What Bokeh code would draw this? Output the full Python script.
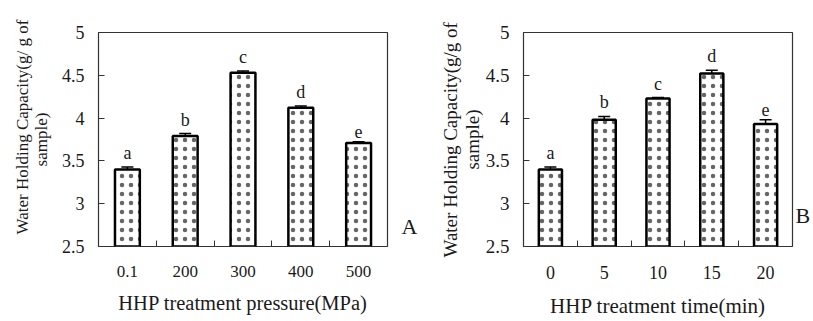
from bokeh.plotting import figure
from bokeh.layouts import row
from bokeh.models import (ColumnDataSource, Range1d, FixedTicker, Whisker, TeeHead,
                          LinearAxis, Title)
from bokeh.core.properties import value
from bokeh.embed import file_html
from bokeh.resources import INLINE

# ---------------- data ----------------
pressure_cats = ["0.1", "200", "300", "400", "500"]
pressure_whc = [3.40, 3.79, 4.53, 4.12, 3.71]
pressure_err = [0.03, 0.03, 0.02, 0.02, 0.015]
pressure_letters = ["a", "b", "c", "d", "e"]

time_cats = ["0", "5", "10", "15", "20"]
time_whc = [3.40, 3.98, 4.23, 4.52, 3.93]
time_err = [0.03, 0.04, 0.01, 0.04, 0.05]
time_letters = ["a", "b", "c", "d", "e"]

y_ticks = [2.5, 3.0, 3.5, 4.0, 4.5, 5.0]
y_tick_labels = ["2.5", "3", "3.5", "4", "4.5", "5"]

FONT = "Liberation Serif"
INK = "#1a1a1a"
H = 321


def panel(cats, vals, errs, letters, xtitle, ytitle1, ytitle2, panel_tag,
          width, bl, br, bt, bb, tick_fs, xt_fs, yt_fs, yl_standoff,
          t1_offset, t1_standoff, tag_px, tag_standoff):
    n = len(cats)
    xs = [i + 0.5 for i in range(n)]
    src = ColumnDataSource(dict(
        x=xs, top=vals,
        upper=[v + e for v, e in zip(vals, errs)],
        lower=[v - e for v, e in zip(vals, errs)],
        letter=letters,
    ))
    y0, y1 = y_ticks[0], y_ticks[-1]
    p = figure(width=width, height=H, output_backend="svg", toolbar_location=None,
               x_range=Range1d(0, n), y_range=Range1d(y0, y1),
               min_border_left=bl, min_border_right=br, min_border_top=bt,
               min_border_bottom=bb)
    p.background_fill_color = "white"
    p.border_fill_color = "white"
    p.outline_line_color = "#333333"
    p.outline_line_width = 1.2
    p.xgrid.grid_line_color = None
    p.ygrid.grid_line_color = None

    p.vbar(x="x", top="top", bottom=y0, width=0.43, source=src,
           fill_color="white", line_color="black", line_width=2.5,
           hatch_pattern="dot", hatch_color="#666666", hatch_scale=9, hatch_weight=1.0)

    wh = Whisker(base="x", upper="upper", lower="lower", source=src,
                 line_color="black", line_width=1.5,
                 upper_head=TeeHead(size=12, line_width=1.5, line_color="black"),
                 lower_head=TeeHead(size=12, line_width=1.5, line_color="black"))
    p.add_layout(wh)

    p.text(x="x", y="upper", text="letter", source=src, text_align="center",
           text_baseline="bottom", y_offset=-4, text_font=value(FONT),
           text_font_size="18px", text_color=INK)

    # x axis: labels under the bars, inward ticks between the bars
    xa = p.xaxis[0]
    xa.ticker = FixedTicker(ticks=xs, minor_ticks=[i for i in range(1, n)])
    xa.major_label_overrides = {x: c for x, c in zip(xs, cats)}
    xa.major_tick_in = 0
    xa.major_tick_out = 0
    xa.minor_tick_in = 6
    xa.minor_tick_out = 0
    xa.minor_tick_line_color = "#333333"
    xa.axis_line_color = None
    xa.major_label_standoff = 19
    xa.major_label_text_font = FONT
    xa.major_label_text_font_size = f"{tick_fs}px"
    xa.major_label_text_color = INK
    xa.axis_label = xtitle
    xa.axis_label_standoff = 12
    xa.axis_label_text_font = FONT
    xa.axis_label_text_font_style = "normal"
    xa.axis_label_text_font_size = f"{xt_fs}px"
    xa.axis_label_text_color = INK

    # y axis (second title line is the axis label)
    ya = p.yaxis[0]
    ya.ticker = FixedTicker(ticks=y_ticks)
    ya.major_label_overrides = {t: l for t, l in zip(y_ticks, y_tick_labels)}
    ya.major_tick_in = 6
    ya.major_tick_out = 0
    ya.major_tick_line_color = "#333333"
    ya.minor_tick_line_color = None
    ya.axis_line_color = None
    ya.major_label_standoff = 14
    ya.major_label_text_font = FONT
    ya.major_label_text_font_size = f"{tick_fs + 1}px"
    ya.major_label_text_color = INK
    ya.axis_label = ytitle2
    ya.axis_label_standoff = yl_standoff
    ya.axis_label_text_font = FONT
    ya.axis_label_text_font_style = "normal"
    ya.axis_label_text_font_size = f"{yt_fs}px"
    ya.axis_label_text_color = INK

    # first title line as a side title
    t1 = Title(text=ytitle1, align="left", offset=t1_offset, standoff=t1_standoff,
               text_font=FONT, text_font_style="normal", text_font_size=f"{yt_fs}px",
               text_color=INK)
    p.add_layout(t1, "left")

    # panel tag (A / B) to the right of the frame
    frame_h = H - bt - bb
    tag_y = y0 + tag_px * (y1 - y0) / frame_h
    tag_axis = LinearAxis(ticker=FixedTicker(ticks=[tag_y]),
                          major_label_overrides={tag_y: panel_tag},
                          major_tick_in=0, major_tick_out=0, minor_tick_in=0,
                          minor_tick_out=0, axis_line_color=None,
                          major_label_standoff=tag_standoff,
                          major_label_text_font=FONT, major_label_text_font_size="22px",
                          major_label_text_color=INK)
    p.add_layout(tag_axis, "right")
    return p


p1 = panel(pressure_cats, pressure_whc, pressure_err, pressure_letters,
           "HHP treatment pressure(MPa)", "Water Holding Capacity(g/ g of", "sample)", "A",
           width=420, bl=98, br=33, bt=32, bb=75, tick_fs=17, xt_fs=20.5, yt_fs=17,
           yl_standoff=8, t1_offset=12, t1_standoff=-6, tag_px=20, tag_standoff=14)
p2 = panel(time_cats, time_whc, time_err, time_letters,
           "HHP treatment time(min)", "Water Holding Capacity(g/g of", "sample)", "B",
           width=393, bl=103, br=17, bt=27, bb=75, tick_fs=18, xt_fs=21, yt_fs=19,
           yl_standoff=0, t1_offset=-11, t1_standoff=-5, tag_px=32, tag_standoff=3)

layout = row(p1, p2)
open("out.html", "w").write(file_html(layout, INLINE))
